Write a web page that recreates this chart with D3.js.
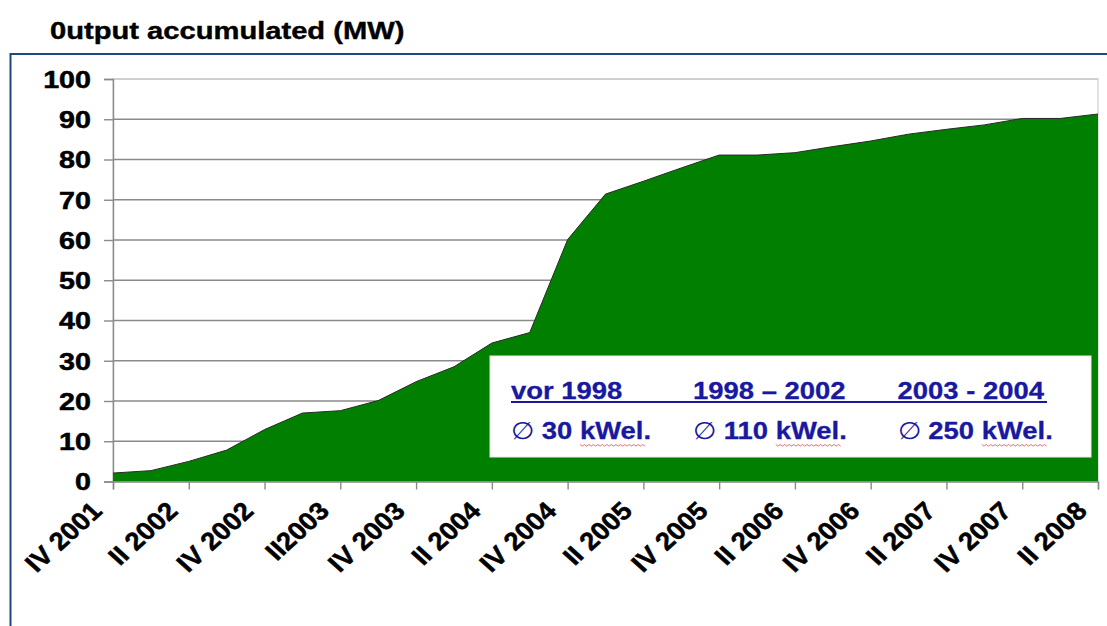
<!DOCTYPE html>
<html>
<head>
<meta charset="utf-8">
<script src="https://cdn.jsdelivr.net/npm/d3@7"></script>
<style>
  html, body { margin: 0; padding: 0; background: #fff; }
  svg { display: block; }
  text { font-family: "Liberation Sans", Arial, sans-serif; font-weight: bold; }
</style>
</head>
<body>
<svg id="chart" width="1107" height="626"></svg>
<script>
// ---------------- data ----------------
const title = "0utput accumulated (MW)";
const quarters = [
  "IV 2001", "I 2002", "II 2002", "III 2002", "IV 2002",
  "I 2003", "II 2003", "III 2003", "IV 2003",
  "I 2004", "II 2004", "III 2004", "IV 2004",
  "I 2005", "II 2005", "III 2005", "IV 2005",
  "I 2006", "II 2006", "III 2006", "IV 2006",
  "I 2007", "II 2007", "III 2007", "IV 2007",
  "I 2008", "II 2008"
];
const outputMW = [
  2.1, 2.7, 5.0, 7.8, 12.9,
  17.0, 17.6, 20.1, 24.8,
  28.5, 34.4, 37.0, 60.1,
  71.4, 74.6, 77.9, 81.1,
  81.1, 81.7, 83.2, 84.6,
  86.3, 87.5, 88.6, 90.2,
  90.2, 91.3
];
// labelled ticks (every second quarter), text as printed
const tickLabels = [
  "IV 2001", "II 2002", "IV 2002", "II2003", "IV 2003", "II 2004", "IV 2004",
  "II 2005", "IV 2005", "II 2006", "IV 2006", "II 2007", "IV 2007", "II 2008"
];
const yTicks = [0, 10, 20, 30, 40, 50, 60, 70, 80, 90, 100];
const legendPeriods = ["vor 1998", "1998 – 2002", "2003 - 2004"];
const legendAverages = ["30", "110", "250"];
const legendUnit = "kWel.";

// ---------------- layout ----------------
const svg = d3.select("#chart");
const plot = { left: 113, right: 1098, top: 79, bottom: 481.5 };
const blue = "#1F497D";
const legendBlue = "#1818a0";
const FONT = '"Liberation Sans", Arial, sans-serif';

const x = d3.scaleLinear().domain([0, quarters.length - 1]).range([plot.left, plot.right]);
const y = d3.scaleLinear().domain([0, 100]).range([plot.bottom, plot.top]);

// outer frame (top + left lines)
svg.append("line").attr("x1", 10).attr("x2", 1107).attr("y1", 54).attr("y2", 54)
  .attr("stroke", blue).attr("stroke-width", 2);
svg.append("line").attr("x1", 10.5).attr("x2", 10.5).attr("y1", 53).attr("y2", 626)
  .attr("stroke", blue).attr("stroke-width", 2);

// title
svg.append("g").attr("transform", "translate(50,38.5) scale(1.19,1)")
  .append("text").attr("font-size", 24.5).attr("fill", "#000")
  .attr("stroke", "#000").attr("stroke-width", 0.4).text(title);

// plot area border
svg.append("rect").attr("x", plot.left).attr("y", plot.top)
  .attr("width", plot.right - plot.left).attr("height", plot.bottom - plot.top)
  .attr("fill", "none").attr("stroke", "#d9d9d9").attr("stroke-width", 1.5);

// gridlines
svg.append("g").selectAll("line").data(yTicks.filter(d => d > 0)).join("line")
  .attr("x1", plot.left).attr("x2", plot.right)
  .attr("y1", d => y(d)).attr("y2", d => y(d))
  .attr("stroke", d => d === 100 ? "#c8c8c8" : "#8a8a8a").attr("stroke-width", 1.4);

// y axis
const yAxis = d3.axisLeft(y).tickValues(yTicks).tickSize(9).tickPadding(0).tickFormat(d3.format("d"));
const gy = svg.append("g").attr("transform", `translate(${plot.left},0)`).call(yAxis);
gy.select(".domain").attr("stroke", "#8a8a8a").attr("stroke-width", 1.4);
gy.selectAll(".tick line").attr("stroke", "#8a8a8a").attr("stroke-width", 1.4);
gy.selectAll(".tick text").remove();
gy.selectAll(".tick").append("g")
  .attr("transform", "translate(-22,0) scale(1.22,1)")
  .append("text")
  .attr("text-anchor", "end").attr("dy", "0.36em")
  .attr("font-size", 23.5).attr("font-family", FONT).attr("font-weight", "bold")
  .attr("fill", "#000").attr("stroke", "#000").attr("stroke-width", 0.5)
  .text(d => d);

// area
const area = d3.area().x((d, i) => x(i)).y0(y(0)).y1(d => y(d)).curve(d3.curveLinear);
svg.append("path").datum(outputMW).attr("d", area).attr("fill", "#007f00");
const line = d3.line().x((d, i) => x(i)).y(d => y(d)).curve(d3.curveLinear);
svg.append("path").datum(outputMW).attr("d", line).attr("fill", "none")
  .attr("stroke", "#2a2a2a").attr("stroke-width", 1);

// x axis
const tickIdx = tickLabels.map((d, i) => i * 2);
const xAxis = d3.axisBottom(x).tickValues(tickIdx).tickSize(8).tickFormat("");
const gx = svg.append("g").attr("transform", `translate(0,${plot.bottom})`).call(xAxis);
gx.select(".domain").attr("stroke", "#8a8a8a").attr("stroke-width", 1.4);
gx.selectAll(".tick line").attr("stroke", "#8a8a8a").attr("stroke-width", 1.4);
gx.selectAll(".tick").append("g")
  .attr("transform", "translate(-10,31) scale(1.1,1) rotate(-45)")
  .append("text")
  .attr("text-anchor", "end")
  .attr("font-size", 25).attr("font-family", FONT).attr("font-weight", "bold")
  .attr("fill", "#000").attr("stroke", "#000").attr("stroke-width", 0.5)
  .text((d, i) => tickLabels[i]);

// legend box
const lg = svg.append("g");
lg.append("rect").attr("x", 490).attr("y", 356).attr("width", 601).attr("height", 101)
  .attr("fill", "#fff").attr("stroke", "#e8efe8").attr("stroke-width", 1);
const colX = [511, 693, 897.5];
const sx = 1.12;
legendPeriods.forEach((p, i) => {
  lg.append("g").attr("transform", `translate(${colX[i]},398.5) scale(${sx},1)`)
    .append("text").attr("font-size", 24.5).attr("fill", legendBlue)
    .attr("stroke", legendBlue).attr("stroke-width", 0.3).text(p);
});
lg.append("line").attr("x1", 511).attr("x2", 1047).attr("y1", 402).attr("y2", 402)
  .attr("stroke", legendBlue).attr("stroke-width", 2);
legendAverages.forEach((a, i) => {
  const g = lg.append("g").attr("transform", `translate(${colX[i]},438.5) scale(${sx},1)`);
  const t = g.append("text").attr("font-size", 24.5).attr("fill", legendBlue);
  t.append("tspan").attr("font-weight", "normal").attr("font-size", 24).text("∅");
  t.append("tspan").attr("stroke", legendBlue).attr("stroke-width", 0.3).text(" " + a + " ");
  const u = t.append("tspan").attr("stroke", legendBlue).attr("stroke-width", 0.3)
    .text(legendUnit.replace(".", ""));
  t.append("tspan").attr("stroke", legendBlue).attr("stroke-width", 0.3).text(".");
  // spell-check style squiggle under the unit
  const full = t.node().getComputedTextLength();
  const dotW = t.select("tspan:last-child").node().getComputedTextLength();
  const uW = u.node().getComputedTextLength();
  const x1 = full - dotW - uW, x2 = full - dotW;
  let d = `M${x1},6`;
  for (let xx = x1, k = 0; xx < x2; xx += 2, k++) d += `L${xx + 2},${k % 2 ? 6 : 7.6}`;
  g.append("path").attr("d", d).attr("fill", "none").attr("stroke", "#e04040").attr("stroke-width", 0.7);
});
</script>
</body>
</html>
